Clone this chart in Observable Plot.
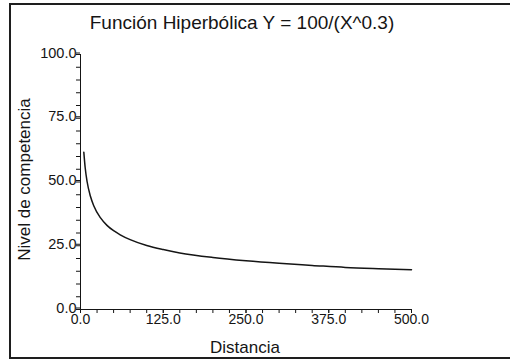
<!DOCTYPE html>
<html>
<head>
<meta charset="utf-8">
<script src="https://cdn.jsdelivr.net/npm/d3@7"></script>
<script src="https://cdn.jsdelivr.net/npm/@observablehq/plot@0.6"></script>
<style>
  html, body { margin: 0; padding: 0; background: #fff; }
  #wrap { position: relative; width: 510px; height: 360px; overflow: hidden; }
  #frame { position: absolute; left: 9px; top: 3px; width: 600px; height: 352px;
           border-left: 2px solid #1e1e1e; border-top: 2px solid #1e1e1e; border-bottom: 2px solid #1e1e1e; }
  #chart { position: absolute; left: 0; top: 0; }
</style>
</head>
<body>
<div id="wrap"><div id="frame"></div><div id="chart"></div></div>
<script>
const title = "Función Hiperbólica Y = 100/(X^0.3)";
const xLabel = "Distancia";
const yLabel = "Nivel de competencia";

// values
const distancia = [5, 7, 10, 15, 20, 30, 40, 50, 60, 75, 100, 125, 150, 200, 250, 300, 350, 400, 450, 500];
const nivel = [61.7, 55.8, 50.1, 44.4, 40.7, 36.0, 33.0, 30.9, 29.3, 27.4, 25.1, 23.5, 22.2, 20.4, 19.1, 18.1, 17.3, 16.5, 16.0, 15.6];

const xTicks = [0, 125, 250, 375, 500];
const xTickLabels = ["0.0", "125.0", "250.0", "375.0", "500.0"];
const xMinorTicks = [0, 25, 50, 75, 100, 125, 150, 175, 200, 225, 250, 275, 300, 325, 350, 375, 400, 425, 450, 475, 500];
const yTicks = [0, 25, 50, 75, 100];
const yTickLabels = ["0.0", "25.0", "50.0", "75.0", "100.0"];
const yMinorTicks = [0, 5, 10, 15, 20, 25, 30, 35, 40, 45, 50, 55, 60, 65, 70, 75, 80, 85, 90, 95, 100];

const data = distancia.map((d, i) => ({x: d, y: nivel[i]}));
const ink = "#151515";

const chart = Plot.plot({
  width: 510,
  height: 360,
  marginLeft: 80,
  marginRight: 99,
  marginTop: 54,
  marginBottom: 51,
  style: {fontFamily: "'Liberation Sans', Arial, sans-serif", color: ink, background: "transparent"},
  x: {domain: [0, 500]},
  y: {domain: [0, 100]},
  marks: [
    Plot.axisX({ticks: xMinorTicks, tickFormat: () => "", tickSize: 4, label: null, stroke: ink}),
    Plot.axisX({ticks: xTicks, tickFormat: d => xTickLabels[xTicks.indexOf(d)], tickSize: 4, tickPadding: 1, fontSize: 14, label: null, stroke: ink, fill: ink}),
    Plot.axisY({ticks: yMinorTicks, tickFormat: () => "", tickSize: 4, label: null, stroke: ink}),
    Plot.axisY({ticks: yTicks, tickFormat: d => yTickLabels[yTicks.indexOf(d)], tickSize: 4, tickPadding: 0, dy: -1.5, fontSize: 14.5, label: null, stroke: ink, fill: ink}),
    Plot.ruleY([0], {stroke: ink, strokeWidth: 1}),
    Plot.ruleX([0], {stroke: ink, strokeWidth: 1}),
    Plot.line(data, {x: "x", y: "y", curve: "monotone-x", stroke: ink, strokeWidth: 1.5}),
    Plot.text([title], {frameAnchor: "top", textAnchor: "middle", lineAnchor: "middle", dx: -4, dy: -32, fontSize: 19, fill: ink}),
    Plot.text([xLabel], {frameAnchor: "bottom", textAnchor: "middle", lineAnchor: "middle", dx: -1, dy: 38, fontSize: 17, fill: ink}),
    Plot.text([yLabel], {frameAnchor: "left", textAnchor: "middle", lineAnchor: "middle", rotate: -90, dx: -56, dy: -2.5, fontSize: 17, fill: ink})
  ]
});
document.getElementById("chart").appendChild(chart);
</script>
</body>
</html>
